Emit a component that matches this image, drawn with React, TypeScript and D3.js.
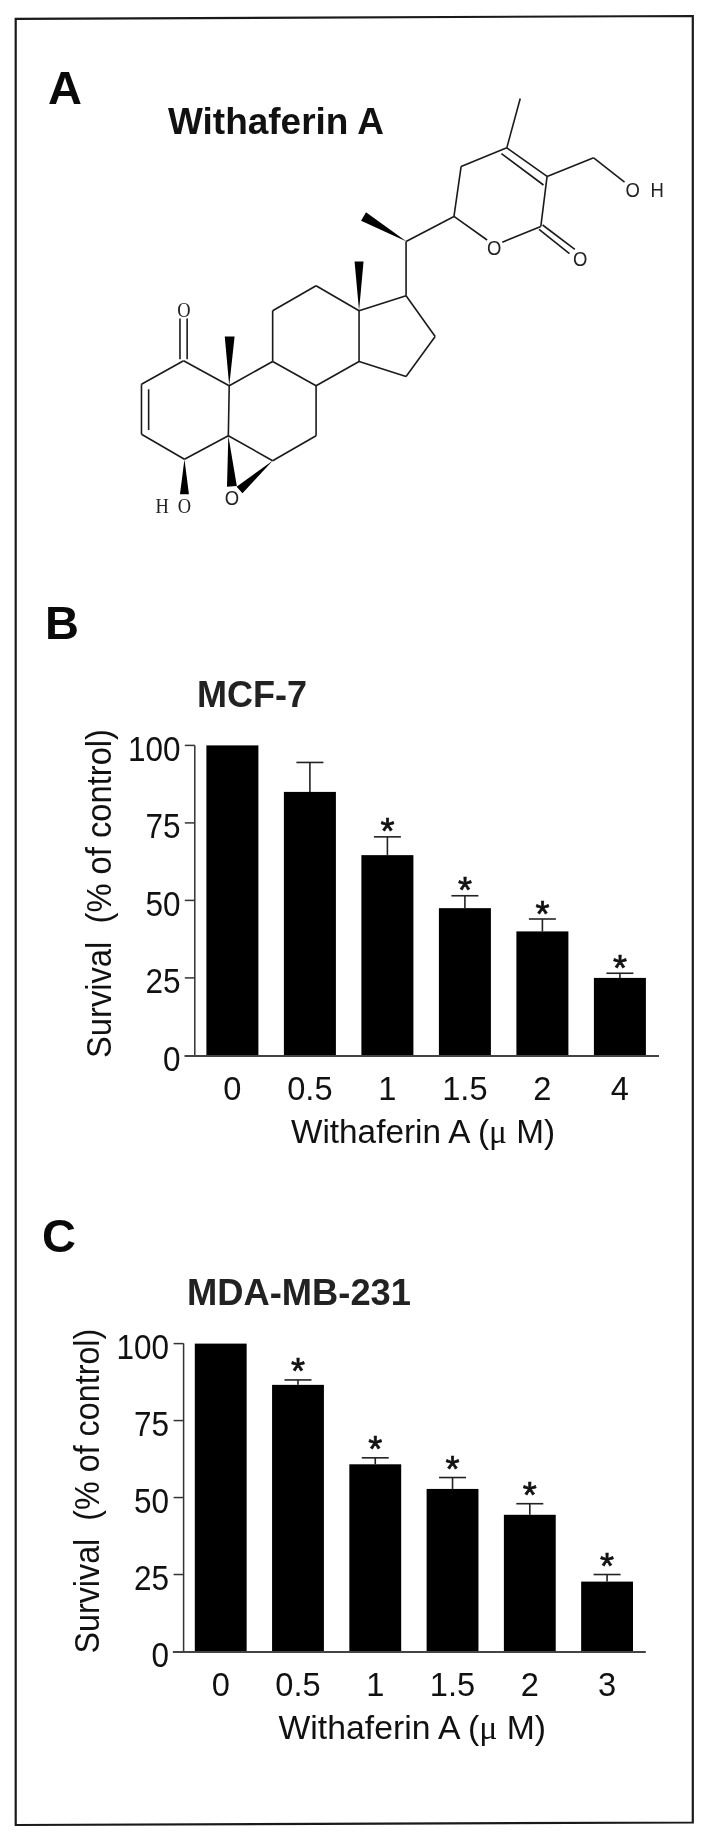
import React from "react";
import * as d3 from "d3";

const SANS = "'Liberation Sans', Arial, sans-serif";
const SERIF = "'Liberation Serif', serif";
const INK = "#111";

const yTicks = [0, 25, 50, 75, 100];
const mcfLabels = ["0", "0.5", "1", "1.5", "2", "4"];
const mcfValues = [100, 85, 64.6, 47.5, 40, 25];
const mcfErrorTops = [100, 94.5, 70.5, 51.5, 44, 26.5];
const mcfStars = [false, false, true, true, true, true];
const mdaLabels = ["0", "0.5", "1", "1.5", "2", "3"];
const mdaValues = [100, 86.6, 60.8, 52.8, 44.4, 22.7];
const mdaErrorTops = [100, 88.2, 62.9, 56.5, 48, 25];
const mdaStars = [false, true, true, true, true, true];

// Molecule geometry, in a normalised 1568 x 1568 drawing space
const atomNames = ["C1","C2","C3","C4","C5","C10","C9","C8","C7","C6","C11","C12","C13","C14","C17","C16","C15","C20","C22","OlA","OlB","C26","C25","C24","C23","Me24","CH2","OHb"];
const atomX = [410,316,316,412,510,512,609,706,706,609,609,706,802,802,907,972,907,907,1014,1088,1122,1208,1222,1132,1030,1162,1326,1395];
const atomY = [1010,1076,1216,1286,1220,1080,1012,1080,1220,1290,870,800,870,1012,828,942,1054,676,606,672,678,634,494,414,466,276,442,510];
const bonds = [
  ["C1","C2"],["C2","C3"],["C3","C4"],["C4","C5"],["C5","C10"],["C10","C1"],
  ["C10","C9"],["C9","C8"],["C8","C7"],["C7","C6"],["C6","C5"],
  ["C9","C11"],["C11","C12"],["C12","C13"],["C13","C14"],["C14","C8"],
  ["C13","C17"],["C17","C16"],["C16","C15"],["C15","C14"],["C17","C20"],["C20","C22"],
  ["C22","OlA"],["OlB","C26"],["C26","C25"],["C25","C24"],["C24","C23"],["C23","C22"],
  ["C24","Me24"],["C25","CH2"],["CH2","OHb"],
];
// extra strokes of the double bonds: x1,y1,x2,y2
const extraX1 = [332, 1120, 402, 418, 1204, 1212];
const extraY1 = [1090, 430, 1006, 1006, 642, 630];
const extraX2 = [332, 1214, 402, 418, 1272, 1284];
const extraY2 = [1204, 518, 892, 892, 710, 698];
// wedges: tip x,y then the wide end's centre x,y and half width
const wedgeTipX = [802, 512, 412, 510, 609, 908];
const wedgeTipY = [870, 1080, 1286, 1220, 1290, 676];
const wedgeEndX = [802, 513, 412, 518, 535, 812];
const wedgeEndY = [732, 942, 1384, 1362, 1372, 606];
const wedgeHalf = [10, 11, 10, 11, 10, 11];
const labelText = ["O", "O", "O", "O", "H", "O", "H", "O"];
const labelX = [411, 1104, 1296, 1413, 1468, 412, 362, 518];
const labelY = [888, 714, 745, 551, 551, 1436, 1436, 1414];
const labelFont = [SERIF, SANS, SANS, SANS, SANS, SERIF, SERIF, SANS];

const molX = d3.scaleLinear().domain([0, 1568]).range([0, 702]);
const molY = d3.scaleLinear().domain([0, 1568]).range([0, 560]);

function Molecule() {
  const at = (n: string) => {
    const i = atomNames.indexOf(n);
    return [molX(atomX[i]), molY(atomY[i])];
  };
  const line = d3.line();
  return (
    <g>
      {bonds.map(([a, b], i) => (
        <path key={i} d={line([at(a) as [number, number], at(b) as [number, number]]) || ""} stroke="#1a1a1a" strokeWidth={1.6} fill="none" />
      ))}
      {extraX1.map((x, i) => (
        <line key={i} x1={molX(x)} y1={molY(extraY1[i])} x2={molX(extraX2[i])} y2={molY(extraY2[i])} stroke="#1a1a1a" strokeWidth={1.6} />
      ))}
      {wedgeTipX.map((x, i) => {
        const tx = molX(x), ty = molY(wedgeTipY[i]);
        const ex = molX(wedgeEndX[i]), ey = molY(wedgeEndY[i]);
        const dx = ex - tx, dy = ey - ty, len = Math.hypot(dx, dy);
        const h = molX(wedgeHalf[i]);
        const nx = (-dy / len) * h, ny = (dx / len) * h;
        return <polygon key={i} points={`${tx},${ty} ${ex + nx},${ey + ny} ${ex - nx},${ey - ny}`} fill="#000" />;
      })}
      {labelText.map((t, i) => (
        <text key={i} transform={`translate(${molX(labelX[i])},${molY(labelY[i])}) scale(0.88,1)`} textAnchor="middle" fontFamily={labelFont[i]} fontSize={21} fill="#222">{t}</text>
      ))}
    </g>
  );
}

interface PanelProps {
  labels: string[]; values: number[]; errorTops: number[]; stars: boolean[];
  xStart: number; xEnd: number; y100: number; y0: number;
  axisX: number; axisStart: number; axisEnd: number;
  tickRight: number; titleBase: number; titleTop: number; titleBottom: number;
  xTickBase: number; xTitleBase: number; xTitleLeft: number; xTitleRight: number;
  starGap: number;
}

function Panel(p: PanelProps) {
  const x = d3.scaleBand<string>().domain(p.labels).range([p.xStart, p.xEnd]).paddingInner(0.329).paddingOuter(0);
  const y = d3.scaleLinear().domain([0, 100]).range([p.y0, p.y100]);
  const capHalf = 13.5;
  return (
    <g>
      {p.labels.map((l, i) => {
        const bx = x(l)!, cx = bx + x.bandwidth() / 2;
        return (
          <g key={l}>
            {p.errorTops[i] > p.values[i] && (
              <g stroke="#222" strokeWidth={1.6}>
                <line x1={cx} x2={cx} y1={y(p.values[i])} y2={y(p.errorTops[i])} />
                <line x1={cx - capHalf} x2={cx + capHalf} y1={y(p.errorTops[i])} y2={y(p.errorTops[i])} />
              </g>
            )}
            <rect x={bx} y={y(p.values[i])} width={x.bandwidth()} height={y(0) - y(p.values[i])} fill="#000" />
            {p.stars[i] && (
              <text x={cx} y={y(p.errorTops[i]) - p.starGap + 21} textAnchor="middle" fontFamily={SANS} fontSize={36} fill="#111" stroke="#111" strokeWidth={0.7}>*</text>
            )}
            <text transform={`translate(${cx},${p.xTickBase}) scale(0.96,1)`} textAnchor="middle" fontFamily={SANS} fontSize={34} fill={INK}>{l}</text>
          </g>
        );
      })}
      <line x1={p.axisX} x2={p.axisX} y1={y(100)} y2={y(0)} stroke="#333" strokeWidth={1.5} />
      <line x1={p.axisStart} x2={p.axisEnd} y1={y(0) + 0.5} y2={y(0) + 0.5} stroke="#444" strokeWidth={2} />
      {yTicks.map((t) => (
        <g key={t}>
          {t > 0 && <line x1={p.axisX - 10} x2={p.axisX} y1={y(t)} y2={y(t)} stroke="#333" strokeWidth={1.5} />}
          <text transform={`translate(${p.tickRight},${y(t) + 15.4}) scale(0.9,1)`} textAnchor="end" fontFamily={SANS} fontSize={35} fill={INK}>{t}</text>
        </g>
      ))}
      <text
        transform={`translate(${p.titleBase},${p.titleBottom}) rotate(-90)`}
        fontFamily={SANS} fontSize={35.5} fill={INK} xmlSpace="preserve"
        textLength={p.titleBottom - p.titleTop} lengthAdjust="spacingAndGlyphs"
      >Survival  (% of control)</text>
      <text
        x={p.xTitleLeft} y={p.xTitleBase} fontFamily={SANS} fontSize={34} fill={INK}
        textLength={p.xTitleRight - p.xTitleLeft} lengthAdjust="spacingAndGlyphs" xmlSpace="preserve"
      >Withaferin A (<tspan fontFamily={SERIF}>μ</tspan> M)</text>
    </g>
  );
}

export default function App() {
  return (
    <svg width={702} height={1839} viewBox="0 0 702 1839"
      style={{ position: "absolute", left: 0, top: 0, display: "block", background: "#fff", filter: "blur(0.4px)" }}>
      <polygon points="15.7,18.8 692.8,16 692.8,1822.5 15.7,1825" fill="none" stroke="#1a1a1a" strokeWidth={2.2} />

      <text x={48} y={103.5} fontFamily={SANS} fontWeight="bold" fontSize={47} fill="#0a0a0a">A</text>
      <text x={168} y={134} fontFamily={SANS} fontWeight="bold" fontSize={36} fill="#111" textLength={216} lengthAdjust="spacingAndGlyphs">Withaferin A</text>
      <Molecule />

      <text x={45} y={639} fontFamily={SANS} fontWeight="bold" fontSize={47} fill="#0a0a0a">B</text>
      <text x={197} y={706.5} fontFamily={SANS} fontWeight="bold" fontSize={36} fill="#222" textLength={110} lengthAdjust="spacingAndGlyphs">MCF-7</text>
      <Panel labels={mcfLabels} values={mcfValues} errorTops={mcfErrorTops} stars={mcfStars}
        xStart={206.4} xEnd={645.9} y100={745.4} y0={1055.4}
        axisX={194.8} axisStart={184.5} axisEnd={659}
        tickRight={180.5} titleBase={110.6} titleTop={729} titleBottom={1058}
        xTickBase={1100} xTitleBase={1143} xTitleLeft={291} xTitleRight={555} starGap={13.5} />

      <text x={42} y={1252} fontFamily={SANS} fontWeight="bold" fontSize={47} fill="#0a0a0a">C</text>
      <text x={187} y={1304.6} fontFamily={SANS} fontWeight="bold" fontSize={36} fill="#222" textLength={224} lengthAdjust="spacingAndGlyphs">MDA-MB-231</text>
      <Panel labels={mdaLabels} values={mdaValues} errorTops={mdaErrorTops} stars={mdaStars}
        xStart={194.8} xEnd={633} y100={1343.6} y0={1651.5}
        axisX={183.6} axisStart={172.9} axisEnd={645.8}
        tickRight={169} titleBase={99.4} titleTop={1328.7} titleBottom={1653.6}
        xTickBase={1695.8} xTitleBase={1739} xTitleLeft={278.5} xTitleRight={546} starGap={17} />
    </svg>
  );
}
